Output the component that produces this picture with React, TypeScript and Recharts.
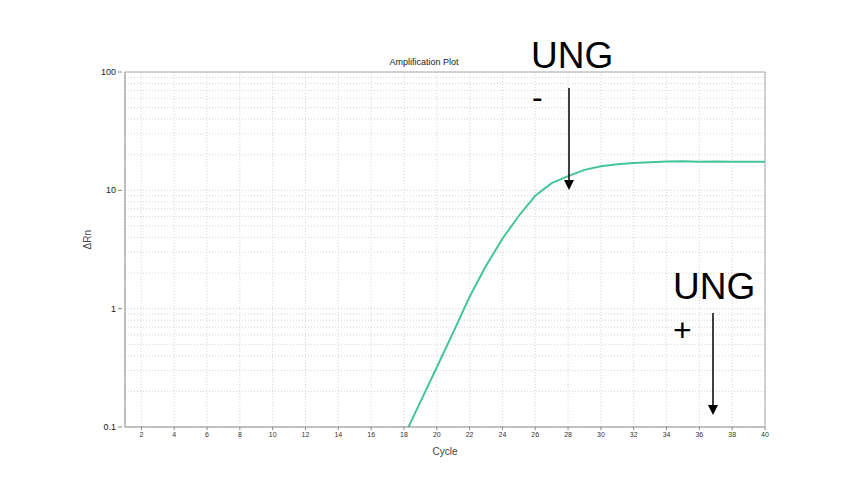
import React from "react";
import { LineChart, Line, XAxis, YAxis, CartesianGrid, ReferenceLine } from "recharts";

const cycles = [18, 19, 20, 21, 22, 23, 24, 25, 26, 27, 28, 29, 30, 31, 32, 33, 34, 35, 36, 37, 38, 39, 40];
const deltaRn = [0.083, 0.163, 0.32, 0.63, 1.26, 2.3, 3.9, 6.1, 9.0, 11.5, 13.2, 14.9, 16.0, 16.6, 17.0, 17.3, 17.5, 17.6, 17.4, 17.5, 17.4, 17.4, 17.4];
const xTicks = [2, 4, 6, 8, 10, 12, 14, 16, 18, 20, 22, 24, 26, 28, 30, 32, 34, 36, 38, 40];
const decades = [0.1, 1, 10, 100];
const yTicks = [
  0.1, 0.2, 0.3, 0.4, 0.5, 0.6, 0.7, 0.8, 0.9,
  1, 2, 3, 4, 5, 6, 7, 8, 9,
  10, 20, 30, 40, 50, 60, 70, 80, 90, 100,
];

const data = cycles.map((c, i) => ({ cycle: c, rn: deltaRn[i] }));

const YTick = (props: any) => {
  const { x, y, payload } = props;
  if (!decades.includes(payload.value)) return null;
  return (
    <g>
      <line x1={x + 1} x2={x + 5} y1={y} y2={y} stroke="#888" />
      <text x={x - 1} y={y} dy={3} textAnchor="end" fontSize={9} fill="#222" fontFamily="Arial, Liberation Sans">
        {payload.value}
      </text>
    </g>
  );
};

export default function App() {
  return (
    <div style={{ position: "absolute", left: 0, top: 0, width: 850, height: 502, background: "#fff" }}>
      <LineChart width={850} height={502} data={data} margin={{ top: 72, right: 85, bottom: 45, left: 65 }}>
        <CartesianGrid stroke="#d4d4d4" strokeDasharray="1 2" />
        <XAxis
          dataKey="cycle"
          type="number"
          domain={[1, 40]}
          ticks={xTicks}
          interval={0}
          height={30}
          stroke="#888"
          tickSize={3}
          tick={{ fontSize: 7, fill: "#333", fontFamily: "Arial, Liberation Sans" }}
          label={{ value: "Cycle", position: "insideBottom", offset: 2, fontSize: 10, fill: "#444", fontFamily: "Arial, Liberation Sans" }}
        />
        <YAxis
          scale="log"
          type="number"
          domain={[0.1, 100]}
          ticks={yTicks}
          interval={0}
          allowDataOverflow
          width={60}
          stroke="#888"
          tickLine={false}
          tick={<YTick />}
          label={{ value: "ΔRn", angle: -90, position: "insideLeft", offset: 22, fontSize: 10, fill: "#444", fontFamily: "Arial, Liberation Sans" }}
        />
        <ReferenceLine y={100} stroke="#aaa" />
        <ReferenceLine x={40} stroke="#aaa" />
        <Line dataKey="rn" stroke="#45C49C" strokeWidth={2} dot={false} isAnimationActive={false} />
      </LineChart>
      <svg width={850} height={502} style={{ position: "absolute", left: 0, top: 0, pointerEvents: "none" }}>
        <text x={424} y={65} textAnchor="middle" fontSize={9} fill="#222" fontFamily="Arial, Liberation Sans">
          Amplification Plot
        </text>
        <g fontFamily="Arial, Liberation Sans" fill="#000">
          <text x={531} y={68} fontSize={37}>UNG</text>
          <text x={532} y={108} fontSize={32}>-</text>
          <text x={673} y={299} fontSize={37}>UNG</text>
          <text x={673} y={341} fontSize={32}>+</text>
        </g>
        <line x1={569} y1={88} x2={569} y2={182} stroke="#000" strokeWidth={1.5} />
        <polygon points="564,180 574,180 569,190" fill="#000" />
        <line x1={713} y1={313} x2={713} y2={407} stroke="#000" strokeWidth={1.5} />
        <polygon points="708,405 718,405 713,415" fill="#000" />
      </svg>
    </div>
  );
}
